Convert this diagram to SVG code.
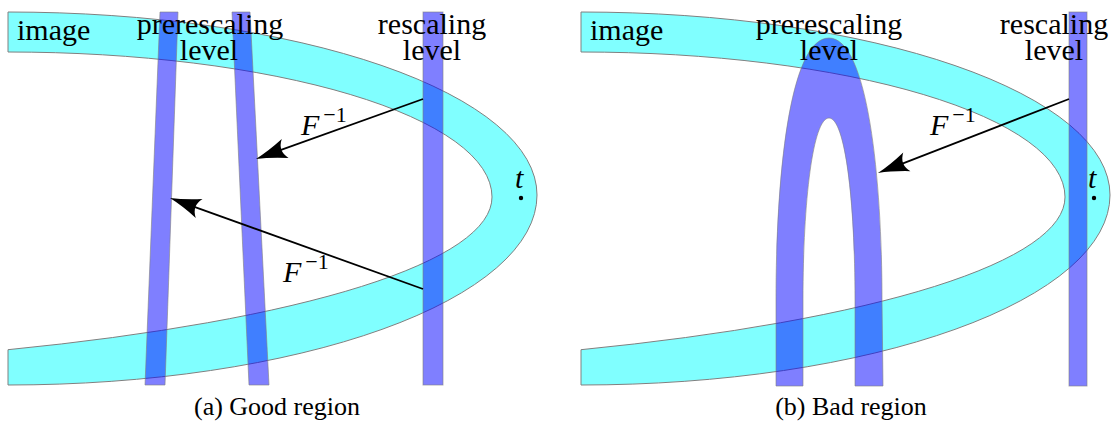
<svg xmlns="http://www.w3.org/2000/svg" width="1116" height="423" viewBox="0 0 1116 423">
<style>
text{font-family:'Liberation Serif','DejaVu Serif',serif}
.band{fill:#80ffff;stroke:#808080;stroke-width:1}
.bar{fill:#0000ff;fill-opacity:0.5;stroke:#808080;stroke-opacity:0.6;stroke-width:1}
.lbl{font-size:30px;fill:#000}
.mid{text-anchor:middle}
.cap{font-size:26px;fill:#000;text-anchor:middle}
.math{font-size:30px;fill:#000}
.sup{font-size:22px}
.arrow{fill:none;stroke:#000;stroke-width:1.8;marker-end:url(#head)}
</style>
<defs>
<marker id="head" markerUnits="userSpaceOnUse" viewBox="-12 -11 33 22" refX="0" refY="0" markerWidth="33" markerHeight="22" orient="auto">
<path d="M20,0 Q6,-3 -11,-10 Q-3,0 -11,10 Q6,3 20,0 Z" fill="#000"/>
</marker>
<path id="bandShape" d="M8,12 A529,183 0 0 1 537,195 A529,190 0 0 1 8,385 L8,349.7 A892,171.6 0 0 0 492,197 A484,145 0 0 0 8,52 Z"/>
</defs>

<!-- Panel (a) -->
<g id="image-a">
<use href="#bandShape" class="band"/>
<text class="lbl" x="17" y="40" font-family="Liberation Serif, serif">image</text>
</g>
<g id="prerescaling-a">
<polygon class="bar" points="160,12 178,12 165,385 145,385"/>
<polygon class="bar" points="232,12 250,12 269,385 249,385"/>
<text class="lbl mid" x="210" y="34" font-family="Liberation Serif, serif">prerescaling</text>
<text class="lbl mid" x="209" y="60" font-family="Liberation Serif, serif">level</text>
</g>
<g id="rescaling-a">
<rect class="bar" x="423" y="12" width="20" height="373"/>
<text class="lbl mid" x="432" y="34" font-family="Liberation Serif, serif">rescaling</text>
<text class="lbl mid" x="432" y="60" font-family="Liberation Serif, serif">level</text>
</g>
<g id="t-a">
<text class="math" x="515" y="188" font-size="28" font-style="italic" font-family="Liberation Serif, serif">t</text>
<circle cx="521" cy="198" r="2.2" fill="#000"/>
</g>

<!-- Panel (b) -->
<g id="image-b">
<use href="#bandShape" class="band" transform="translate(573,0)"/>
<text class="lbl" x="590" y="40" font-family="Liberation Serif, serif">image</text>
</g>
<g id="prerescaling-b">
<path class="bar" d="M776,386 L776,300 C776,180 789,38 829,38 C868,38 882,180 882,300 L883,386 L855,386 L855,300 C855,200 845,118 829,118 C813,118 803,200 803,300 L803,386 Z"/>
<text class="lbl mid" x="829" y="34" font-family="Liberation Serif, serif">prerescaling</text>
<text class="lbl mid" x="829" y="60" font-family="Liberation Serif, serif">level</text>
</g>
<g id="rescaling-b">
<rect class="bar" x="1069" y="12" width="18" height="374"/>
<text class="lbl mid" x="1054" y="34" font-family="Liberation Serif, serif">rescaling</text>
<text class="lbl mid" x="1054" y="60" font-family="Liberation Serif, serif">level</text>
</g>
<g id="t-b">
<text class="math" x="1088" y="188" font-size="28" font-style="italic" font-family="Liberation Serif, serif">t</text>
<circle cx="1094" cy="198" r="2.2" fill="#000"/>
</g>

<!-- Connectors -->
<g id="connectors">
<line class="arrow" x1="423" y1="99" x2="274.8" y2="152.2"/>
<line class="arrow" x1="423" y1="289" x2="188.8" y2="204.8"/>
<line class="arrow" x1="1069" y1="99" x2="896.6" y2="165.8"/>
<text class="math" x="301" y="135" font-family="Liberation Serif, serif"><tspan font-style="italic">F</tspan><tspan class="sup" dx="4" dy="-13">−1</tspan></text>
<text class="math" x="283" y="282" font-family="Liberation Serif, serif"><tspan font-style="italic">F</tspan><tspan class="sup" dx="4" dy="-13">−1</tspan></text>
<text class="math" x="930" y="135" font-family="Liberation Serif, serif"><tspan font-style="italic">F</tspan><tspan class="sup" dx="4" dy="-13">−1</tspan></text>
</g>

<!-- Captions -->
<text class="cap" x="277" y="415" font-family="Liberation Serif, serif">(a) Good region</text>
<text class="cap" x="851" y="415" font-family="Liberation Serif, serif">(b) Bad region</text>
</svg>
